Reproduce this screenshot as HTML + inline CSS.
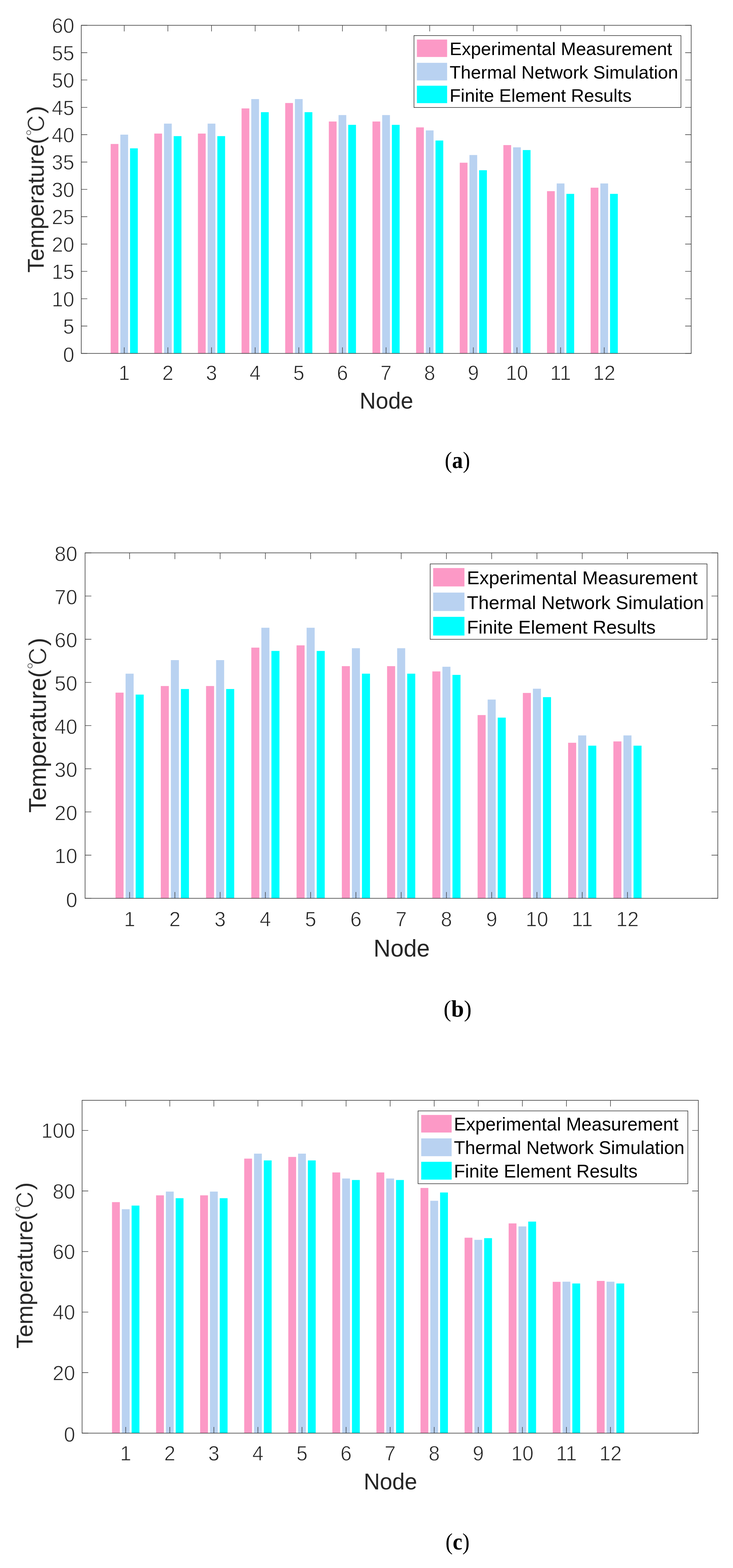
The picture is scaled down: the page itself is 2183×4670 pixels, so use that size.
<!DOCTYPE html>
<html lang="en">
<head>
<meta charset="utf-8">
<title>Temperature comparison by node</title>
<style>
html,body{margin:0;padding:0;background:#fff;}
body{width:2183px;height:4670px;overflow:hidden;}
svg{display:block;}
text{white-space:pre;}
</style>
</head>
<body>
<svg width="2183" height="4670" viewBox="0 0 2183 4670">
<defs><filter id="soft" color-interpolation-filters="sRGB"><feGaussianBlur stdDeviation="0.55"/></filter></defs>
<rect width="2183" height="4670" fill="#fff"/>
<g filter="url(#soft)">
<g fill="#FC99C6">
<rect x="329.57" y="428.8" width="23.1" height="623.8"/>
<rect x="459.52" y="397.8" width="23.1" height="654.8"/>
<rect x="589.48" y="397.8" width="23.1" height="654.8"/>
<rect x="719.43" y="322.9" width="23.1" height="729.7"/>
<rect x="849.39" y="306.8" width="23.1" height="745.8"/>
<rect x="979.34" y="361.9" width="23.1" height="690.7"/>
<rect x="1109.3" y="361.9" width="23.1" height="690.7"/>
<rect x="1239.25" y="379.4" width="23.1" height="673.2"/>
<rect x="1369.21" y="484.6" width="23.1" height="568"/>
<rect x="1499.16" y="432.1" width="23.1" height="620.5"/>
<rect x="1629.12" y="569.3" width="23.1" height="483.3"/>
<rect x="1759.07" y="559" width="23.1" height="493.6"/>
</g>
<g fill="#B9D2F1">
<rect x="358.45" y="401" width="23.1" height="651.6"/>
<rect x="488.4" y="368.2" width="23.1" height="684.4"/>
<rect x="618.36" y="368.2" width="23.1" height="684.4"/>
<rect x="748.31" y="295.1" width="23.1" height="757.5"/>
<rect x="878.27" y="295.1" width="23.1" height="757.5"/>
<rect x="1008.22" y="342.7" width="23.1" height="709.9"/>
<rect x="1138.18" y="342.7" width="23.1" height="709.9"/>
<rect x="1268.13" y="388.4" width="23.1" height="664.2"/>
<rect x="1398.08" y="461.7" width="23.1" height="590.9"/>
<rect x="1528.04" y="438.8" width="23.1" height="613.8"/>
<rect x="1657.99" y="546.4" width="23.1" height="506.2"/>
<rect x="1787.95" y="546.4" width="23.1" height="506.2"/>
</g>
<g fill="#00FFFF">
<rect x="387.33" y="441.8" width="23.1" height="610.8"/>
<rect x="517.28" y="405.4" width="23.1" height="647.2"/>
<rect x="647.24" y="405.4" width="23.1" height="647.2"/>
<rect x="777.19" y="334.1" width="23.1" height="718.5"/>
<rect x="907.15" y="334.1" width="23.1" height="718.5"/>
<rect x="1037.1" y="371.8" width="23.1" height="680.8"/>
<rect x="1167.05" y="371.8" width="23.1" height="680.8"/>
<rect x="1297.01" y="418.5" width="23.1" height="634.1"/>
<rect x="1426.96" y="507" width="23.1" height="545.6"/>
<rect x="1556.92" y="446.9" width="23.1" height="605.7"/>
<rect x="1686.87" y="577.4" width="23.1" height="475.2"/>
<rect x="1816.83" y="577.4" width="23.1" height="475.2"/>
</g>
<path d="M370 1052.6v-18M370 75.4v18M499.95 1052.6v-18M499.95 75.4v18M629.91 1052.6v-18M629.91 75.4v18M759.86 1052.6v-18M759.86 75.4v18M889.82 1052.6v-18M889.82 75.4v18M1019.77 1052.6v-18M1019.77 75.4v18M1149.73 1052.6v-18M1149.73 75.4v18M1279.68 1052.6v-18M1279.68 75.4v18M1409.64 1052.6v-18M1409.64 75.4v18M1539.59 1052.6v-18M1539.59 75.4v18M1669.55 1052.6v-18M1669.55 75.4v18M1799.5 1052.6v-18M1799.5 75.4v18M242 1052.6h18M2058.5 1052.6h-18M242 971.17h18M2058.5 971.17h-18M242 889.73h18M2058.5 889.73h-18M242 808.3h18M2058.5 808.3h-18M242 726.87h18M2058.5 726.87h-18M242 645.43h18M2058.5 645.43h-18M242 564h18M2058.5 564h-18M242 482.57h18M2058.5 482.57h-18M242 401.13h18M2058.5 401.13h-18M242 319.7h18M2058.5 319.7h-18M242 238.27h18M2058.5 238.27h-18M242 156.83h18M2058.5 156.83h-18M242 75.4h18M2058.5 75.4h-18" fill="none" stroke="#3a3a3a" stroke-width="1.62"/>
<rect x="242" y="75.4" width="1816.5" height="977.2" fill="none" stroke="#3a3a3a" stroke-width="1.8"/>
<g font-family="'Liberation Sans', sans-serif" font-size="63" fill="#262626" text-anchor="end" stroke="#fff" stroke-width="1.3">
<text transform="translate(221.5 1077.8) scale(0.96 1)">0</text>
<text transform="translate(221.5 994.07) scale(0.96 1)">5</text>
<text transform="translate(221.5 912.63) scale(0.96 1)">10</text>
<text transform="translate(221.5 831.2) scale(0.96 1)">15</text>
<text transform="translate(221.5 749.77) scale(0.96 1)">20</text>
<text transform="translate(221.5 668.33) scale(0.96 1)">25</text>
<text transform="translate(221.5 586.9) scale(0.96 1)">30</text>
<text transform="translate(221.5 505.47) scale(0.96 1)">35</text>
<text transform="translate(221.5 424.03) scale(0.96 1)">40</text>
<text transform="translate(221.5 342.6) scale(0.96 1)">45</text>
<text transform="translate(221.5 261.17) scale(0.96 1)">50</text>
<text transform="translate(221.5 179.73) scale(0.96 1)">55</text>
<text transform="translate(221.5 98.3) scale(0.96 1)">60</text>
</g>
<g font-family="'Liberation Sans', sans-serif" font-size="63" fill="#262626" text-anchor="middle" stroke="#fff" stroke-width="1.3">
<text transform="translate(370 1132.3) scale(0.95 1)">1</text>
<text transform="translate(499.95 1132.3) scale(0.95 1)">2</text>
<text transform="translate(629.91 1132.3) scale(0.95 1)">3</text>
<text transform="translate(759.86 1132.3) scale(0.95 1)">4</text>
<text transform="translate(889.82 1132.3) scale(0.95 1)">5</text>
<text transform="translate(1019.77 1132.3) scale(0.95 1)">6</text>
<text transform="translate(1149.73 1132.3) scale(0.95 1)">7</text>
<text transform="translate(1279.68 1132.3) scale(0.95 1)">8</text>
<text transform="translate(1409.64 1132.3) scale(0.95 1)">9</text>
<text transform="translate(1539.59 1132.3) scale(0.95 1)">10</text>
<text transform="translate(1669.55 1132.3) scale(0.95 1)">11</text>
<text transform="translate(1799.5 1132.3) scale(0.95 1)">12</text>
</g>
<text transform="translate(1150.9 1217.4) scale(0.965 1)" font-family="'Liberation Sans', sans-serif" font-size="69.22" fill="#262626" text-anchor="middle">Node</text>
<text transform="translate(130.2 563.7) rotate(-90)" font-family="'Liberation Sans', sans-serif" font-size="68.2" fill="#262626" text-anchor="middle">Temperature(<tspan font-family="IPAGothic, 'Noto Serif CJK SC', 'Noto Sans CJK SC', sans-serif" dy="3.5" stroke="#fff" stroke-width="1.5">℃</tspan><tspan dy="-3.5">)</tspan></text>
<rect x="1232.9" y="106" width="795.1" height="214.2" fill="#fff" stroke="#262626" stroke-width="1.6"/>
<rect x="1241.6" y="117.8" width="90" height="51.9" fill="#FC99C6"/>
<rect x="1241.6" y="187.1" width="90" height="52.5" fill="#B9D2F1"/>
<rect x="1241.6" y="255.3" width="90" height="51.9" fill="#00FFFF"/>
<g font-family="'Liberation Sans', sans-serif" font-size="54.2" fill="#000">
<text x="1339" y="164">Experimental Measurement</text>
<text x="1339" y="233.7">Thermal Network Simulation</text>
<text x="1339" y="303.1">Finite Element Results</text>
</g>
<text transform="translate(1362.3 1393.7) scale(0.93 1)" font-family="'Liberation Serif', 'DejaVu Serif', serif" font-size="69.5" fill="#000" text-anchor="middle">(<tspan font-weight="bold">a</tspan>)</text>
</g>
<g filter="url(#soft)">
<g fill="#FC99C6">
<rect x="344.07" y="2062.9" width="23.96" height="612.6"/>
<rect x="478.86" y="2043.2" width="23.96" height="632.3"/>
<rect x="613.65" y="2043.2" width="23.96" height="632.3"/>
<rect x="748.44" y="1928.8" width="23.96" height="746.7"/>
<rect x="883.23" y="1922.1" width="23.96" height="753.4"/>
<rect x="1018.02" y="1984" width="23.96" height="691.5"/>
<rect x="1152.81" y="1984" width="23.96" height="691.5"/>
<rect x="1287.6" y="1999.7" width="23.96" height="675.8"/>
<rect x="1422.39" y="2129.7" width="23.96" height="545.8"/>
<rect x="1557.18" y="2063.8" width="23.96" height="611.7"/>
<rect x="1691.97" y="2212.2" width="23.96" height="463.3"/>
<rect x="1826.77" y="2208.2" width="23.96" height="467.3"/>
</g>
<g fill="#B9D2F1">
<rect x="374.02" y="2006.4" width="23.96" height="669.1"/>
<rect x="508.81" y="1966" width="23.96" height="709.5"/>
<rect x="643.6" y="1966" width="23.96" height="709.5"/>
<rect x="778.39" y="1869.6" width="23.96" height="805.9"/>
<rect x="913.18" y="1869.6" width="23.96" height="805.9"/>
<rect x="1047.97" y="1930.6" width="23.96" height="744.9"/>
<rect x="1182.76" y="1930.6" width="23.96" height="744.9"/>
<rect x="1317.55" y="1985.8" width="23.96" height="689.7"/>
<rect x="1452.35" y="2083.5" width="23.96" height="592"/>
<rect x="1587.14" y="2051.2" width="23.96" height="624.3"/>
<rect x="1721.93" y="2190.3" width="23.96" height="485.2"/>
<rect x="1856.72" y="2190.3" width="23.96" height="485.2"/>
</g>
<g fill="#00FFFF">
<rect x="403.97" y="2068.7" width="23.96" height="606.8"/>
<rect x="538.76" y="2052.1" width="23.96" height="623.4"/>
<rect x="673.55" y="2052.1" width="23.96" height="623.4"/>
<rect x="808.34" y="1938.7" width="23.96" height="736.8"/>
<rect x="943.14" y="1938.7" width="23.96" height="736.8"/>
<rect x="1077.93" y="2006.4" width="23.96" height="669.1"/>
<rect x="1212.72" y="2006.4" width="23.96" height="669.1"/>
<rect x="1347.51" y="2010" width="23.96" height="665.5"/>
<rect x="1482.3" y="2137.3" width="23.96" height="538.2"/>
<rect x="1617.09" y="2076.3" width="23.96" height="599.2"/>
<rect x="1751.88" y="2220.8" width="23.96" height="454.7"/>
<rect x="1886.67" y="2220.8" width="23.96" height="454.7"/>
</g>
<path d="M386 2675.5v-18.7M386 1646.6v18.7M520.79 2675.5v-18.7M520.79 1646.6v18.7M655.58 2675.5v-18.7M655.58 1646.6v18.7M790.37 2675.5v-18.7M790.37 1646.6v18.7M925.16 2675.5v-18.7M925.16 1646.6v18.7M1059.95 2675.5v-18.7M1059.95 1646.6v18.7M1194.75 2675.5v-18.7M1194.75 1646.6v18.7M1329.54 2675.5v-18.7M1329.54 1646.6v18.7M1464.33 2675.5v-18.7M1464.33 1646.6v18.7M1599.12 2675.5v-18.7M1599.12 1646.6v18.7M1733.91 2675.5v-18.7M1733.91 1646.6v18.7M1868.7 2675.5v-18.7M1868.7 1646.6v18.7M253.4 2675.5h18.7M2137.7 2675.5h-18.7M253.4 2546.89h18.7M2137.7 2546.89h-18.7M253.4 2418.28h18.7M2137.7 2418.28h-18.7M253.4 2289.66h18.7M2137.7 2289.66h-18.7M253.4 2161.05h18.7M2137.7 2161.05h-18.7M253.4 2032.44h18.7M2137.7 2032.44h-18.7M253.4 1903.82h18.7M2137.7 1903.82h-18.7M253.4 1775.21h18.7M2137.7 1775.21h-18.7M253.4 1646.6h18.7M2137.7 1646.6h-18.7" fill="none" stroke="#3a3a3a" stroke-width="1.62"/>
<rect x="253.4" y="1646.6" width="1884.3" height="1028.9" fill="none" stroke="#3a3a3a" stroke-width="1.8"/>
<g font-family="'Liberation Sans', sans-serif" font-size="63.6" fill="#262626" text-anchor="end" stroke="#fff" stroke-width="1.3">
<text transform="translate(230.5 2702) scale(0.96 1)">0</text>
<text transform="translate(230.5 2571.39) scale(0.96 1)">10</text>
<text transform="translate(230.5 2442.78) scale(0.96 1)">20</text>
<text transform="translate(230.5 2314.16) scale(0.96 1)">30</text>
<text transform="translate(230.5 2185.55) scale(0.96 1)">40</text>
<text transform="translate(230.5 2056.94) scale(0.96 1)">50</text>
<text transform="translate(230.5 1928.32) scale(0.96 1)">60</text>
<text transform="translate(230.5 1799.71) scale(0.96 1)">70</text>
<text transform="translate(230.5 1671.1) scale(0.96 1)">80</text>
</g>
<g font-family="'Liberation Sans', sans-serif" font-size="63.6" fill="#262626" text-anchor="middle" stroke="#fff" stroke-width="1.3">
<text transform="translate(386 2758.5) scale(0.95 1)">1</text>
<text transform="translate(520.79 2758.5) scale(0.95 1)">2</text>
<text transform="translate(655.58 2758.5) scale(0.95 1)">3</text>
<text transform="translate(790.37 2758.5) scale(0.95 1)">4</text>
<text transform="translate(925.16 2758.5) scale(0.95 1)">5</text>
<text transform="translate(1059.95 2758.5) scale(0.95 1)">6</text>
<text transform="translate(1194.75 2758.5) scale(0.95 1)">7</text>
<text transform="translate(1329.54 2758.5) scale(0.95 1)">8</text>
<text transform="translate(1464.33 2758.5) scale(0.95 1)">9</text>
<text transform="translate(1599.12 2758.5) scale(0.95 1)">10</text>
<text transform="translate(1733.91 2758.5) scale(0.95 1)">11</text>
<text transform="translate(1868.7 2758.5) scale(0.95 1)">12</text>
</g>
<text transform="translate(1196.3 2849.2) scale(0.965 1)" font-family="'Liberation Sans', sans-serif" font-size="72.67" fill="#262626" text-anchor="middle">Node</text>
<text transform="translate(136.7 2160) rotate(-90)" font-family="'Liberation Sans', sans-serif" font-size="71.6" fill="#262626" text-anchor="middle">Temperature(<tspan font-family="IPAGothic, 'Noto Serif CJK SC', 'Noto Sans CJK SC', sans-serif" dy="3.5" stroke="#fff" stroke-width="1.5">℃</tspan><tspan dy="-3.5">)</tspan></text>
<rect x="1281.2" y="1679.5" width="824.4" height="224.6" fill="#fff" stroke="#262626" stroke-width="1.6"/>
<rect x="1290" y="1691.8" width="93.2" height="54.8" fill="#FC99C6"/>
<rect x="1290" y="1764.9" width="93.2" height="54.8" fill="#B9D2F1"/>
<rect x="1290" y="1837.2" width="93.2" height="55.6" fill="#00FFFF"/>
<g font-family="'Liberation Sans', sans-serif" font-size="56.2" fill="#000">
<text x="1390.5" y="1740.4">Experimental Measurement</text>
<text x="1390.5" y="1813.9">Thermal Network Simulation</text>
<text x="1390.5" y="1886.6">Finite Element Results</text>
</g>
<text transform="translate(1362.7 3027.7) scale(0.98 1)" font-family="'Liberation Serif', 'DejaVu Serif', serif" font-size="69.5" fill="#000" text-anchor="middle">(<tspan font-weight="bold">b</tspan>)</text>
</g>
<g filter="url(#soft)">
<g fill="#FC99C6">
<rect x="333.57" y="3580.3" width="23.33" height="688.1"/>
<rect x="464.82" y="3560.1" width="23.33" height="708.3"/>
<rect x="596.07" y="3560.1" width="23.33" height="708.3"/>
<rect x="727.33" y="3450.7" width="23.33" height="817.7"/>
<rect x="858.58" y="3445.7" width="23.33" height="822.7"/>
<rect x="989.84" y="3491.9" width="23.33" height="776.5"/>
<rect x="1121.09" y="3491.9" width="23.33" height="776.5"/>
<rect x="1252.35" y="3538.1" width="23.33" height="730.3"/>
<rect x="1383.6" y="3686.3" width="23.33" height="582.1"/>
<rect x="1514.86" y="3643.7" width="23.33" height="624.7"/>
<rect x="1646.11" y="3817.7" width="23.33" height="450.7"/>
<rect x="1777.37" y="3815" width="23.33" height="453.4"/>
</g>
<g fill="#B9D2F1">
<rect x="362.73" y="3601.4" width="23.33" height="667"/>
<rect x="493.99" y="3548.9" width="23.33" height="719.5"/>
<rect x="625.24" y="3548.9" width="23.33" height="719.5"/>
<rect x="756.5" y="3435.9" width="23.33" height="832.5"/>
<rect x="887.75" y="3435.9" width="23.33" height="832.5"/>
<rect x="1019.01" y="3509.9" width="23.33" height="758.5"/>
<rect x="1150.26" y="3509.9" width="23.33" height="758.5"/>
<rect x="1281.51" y="3576.3" width="23.33" height="692.1"/>
<rect x="1412.77" y="3692.6" width="23.33" height="575.8"/>
<rect x="1544.02" y="3652.7" width="23.33" height="615.7"/>
<rect x="1675.28" y="3817.3" width="23.33" height="451.1"/>
<rect x="1806.53" y="3817.3" width="23.33" height="451.1"/>
</g>
<g fill="#00FFFF">
<rect x="391.9" y="3590.6" width="23.33" height="677.8"/>
<rect x="523.16" y="3568.6" width="23.33" height="699.8"/>
<rect x="654.41" y="3568.6" width="23.33" height="699.8"/>
<rect x="785.66" y="3456.1" width="23.33" height="812.3"/>
<rect x="916.92" y="3456.1" width="23.33" height="812.3"/>
<rect x="1048.17" y="3514.4" width="23.33" height="754"/>
<rect x="1179.43" y="3514.4" width="23.33" height="754"/>
<rect x="1310.68" y="3551.6" width="23.33" height="716.8"/>
<rect x="1441.94" y="3687.6" width="23.33" height="580.8"/>
<rect x="1573.19" y="3638.3" width="23.33" height="630.1"/>
<rect x="1704.45" y="3822.6" width="23.33" height="445.8"/>
<rect x="1835.7" y="3822.6" width="23.33" height="445.8"/>
</g>
<path d="M374.4 4268.4v-18.3M374.4 3277.1v18.3M505.65 4268.4v-18.3M505.65 3277.1v18.3M636.91 4268.4v-18.3M636.91 3277.1v18.3M768.16 4268.4v-18.3M768.16 3277.1v18.3M899.42 4268.4v-18.3M899.42 3277.1v18.3M1030.67 4268.4v-18.3M1030.67 3277.1v18.3M1161.93 4268.4v-18.3M1161.93 3277.1v18.3M1293.18 4268.4v-18.3M1293.18 3277.1v18.3M1424.44 4268.4v-18.3M1424.44 3277.1v18.3M1555.69 4268.4v-18.3M1555.69 3277.1v18.3M1686.95 4268.4v-18.3M1686.95 3277.1v18.3M1818.2 4268.4v-18.3M1818.2 3277.1v18.3M244.5 4268.4h18.3M2079.7 4268.4h-18.3M244.5 4088.08h18.3M2079.7 4088.08h-18.3M244.5 3907.76h18.3M2079.7 3907.76h-18.3M244.5 3727.45h18.3M2079.7 3727.45h-18.3M244.5 3547.13h18.3M2079.7 3547.13h-18.3M244.5 3366.81h18.3M2079.7 3366.81h-18.3" fill="none" stroke="#3a3a3a" stroke-width="1.62"/>
<rect x="244.5" y="3277.1" width="1835.2" height="991.3" fill="none" stroke="#3a3a3a" stroke-width="1.8"/>
<g font-family="'Liberation Sans', sans-serif" font-size="63" fill="#262626" text-anchor="end" stroke="#fff" stroke-width="1.3">
<text transform="translate(224 4294.4) scale(0.96 1)">0</text>
<text transform="translate(224 4110.58) scale(0.96 1)">20</text>
<text transform="translate(224 3930.26) scale(0.96 1)">40</text>
<text transform="translate(224 3749.95) scale(0.96 1)">60</text>
<text transform="translate(224 3569.63) scale(0.96 1)">80</text>
<text transform="translate(224 3389.31) scale(0.96 1)">100</text>
</g>
<g font-family="'Liberation Sans', sans-serif" font-size="63" fill="#262626" text-anchor="middle" stroke="#fff" stroke-width="1.3">
<text transform="translate(374.4 4349.6) scale(0.95 1)">1</text>
<text transform="translate(505.65 4349.6) scale(0.95 1)">2</text>
<text transform="translate(636.91 4349.6) scale(0.95 1)">3</text>
<text transform="translate(768.16 4349.6) scale(0.95 1)">4</text>
<text transform="translate(899.42 4349.6) scale(0.95 1)">5</text>
<text transform="translate(1030.67 4349.6) scale(0.95 1)">6</text>
<text transform="translate(1161.93 4349.6) scale(0.95 1)">7</text>
<text transform="translate(1293.18 4349.6) scale(0.95 1)">8</text>
<text transform="translate(1424.44 4349.6) scale(0.95 1)">9</text>
<text transform="translate(1555.69 4349.6) scale(0.95 1)">10</text>
<text transform="translate(1686.95 4349.6) scale(0.95 1)">11</text>
<text transform="translate(1818.2 4349.6) scale(0.95 1)">12</text>
</g>
<text transform="translate(1162.8 4436.3) scale(0.965 1)" font-family="'Liberation Sans', sans-serif" font-size="69.02" fill="#262626" text-anchor="middle">Node</text>
<text transform="translate(96.9 3768.8) rotate(-90)" font-family="'Liberation Sans', sans-serif" font-size="68" fill="#262626" text-anchor="middle">Temperature(<tspan font-family="IPAGothic, 'Noto Serif CJK SC', 'Noto Sans CJK SC', sans-serif" dy="3.5" stroke="#fff" stroke-width="1.5">℃</tspan><tspan dy="-3.5">)</tspan></text>
<rect x="1245" y="3308.6" width="803.5" height="216.9" fill="#fff" stroke="#262626" stroke-width="1.6"/>
<rect x="1254.4" y="3320.7" width="90.7" height="52.3" fill="#FC99C6"/>
<rect x="1254.4" y="3390.5" width="90.7" height="53" fill="#B9D2F1"/>
<rect x="1254.4" y="3460.2" width="90.7" height="53.1" fill="#00FFFF"/>
<g font-family="'Liberation Sans', sans-serif" font-size="54.7" fill="#000">
<text x="1351.7" y="3366.7">Experimental Measurement</text>
<text x="1351.7" y="3436.9">Thermal Network Simulation</text>
<text x="1351.7" y="3507">Finite Element Results</text>
</g>
<text transform="translate(1362.7 4614.6) scale(0.93 1)" font-family="'Liberation Serif', 'DejaVu Serif', serif" font-size="69.5" fill="#000" text-anchor="middle">(<tspan font-weight="bold">c</tspan>)</text>
</g>
</svg>
</body>
</html>
